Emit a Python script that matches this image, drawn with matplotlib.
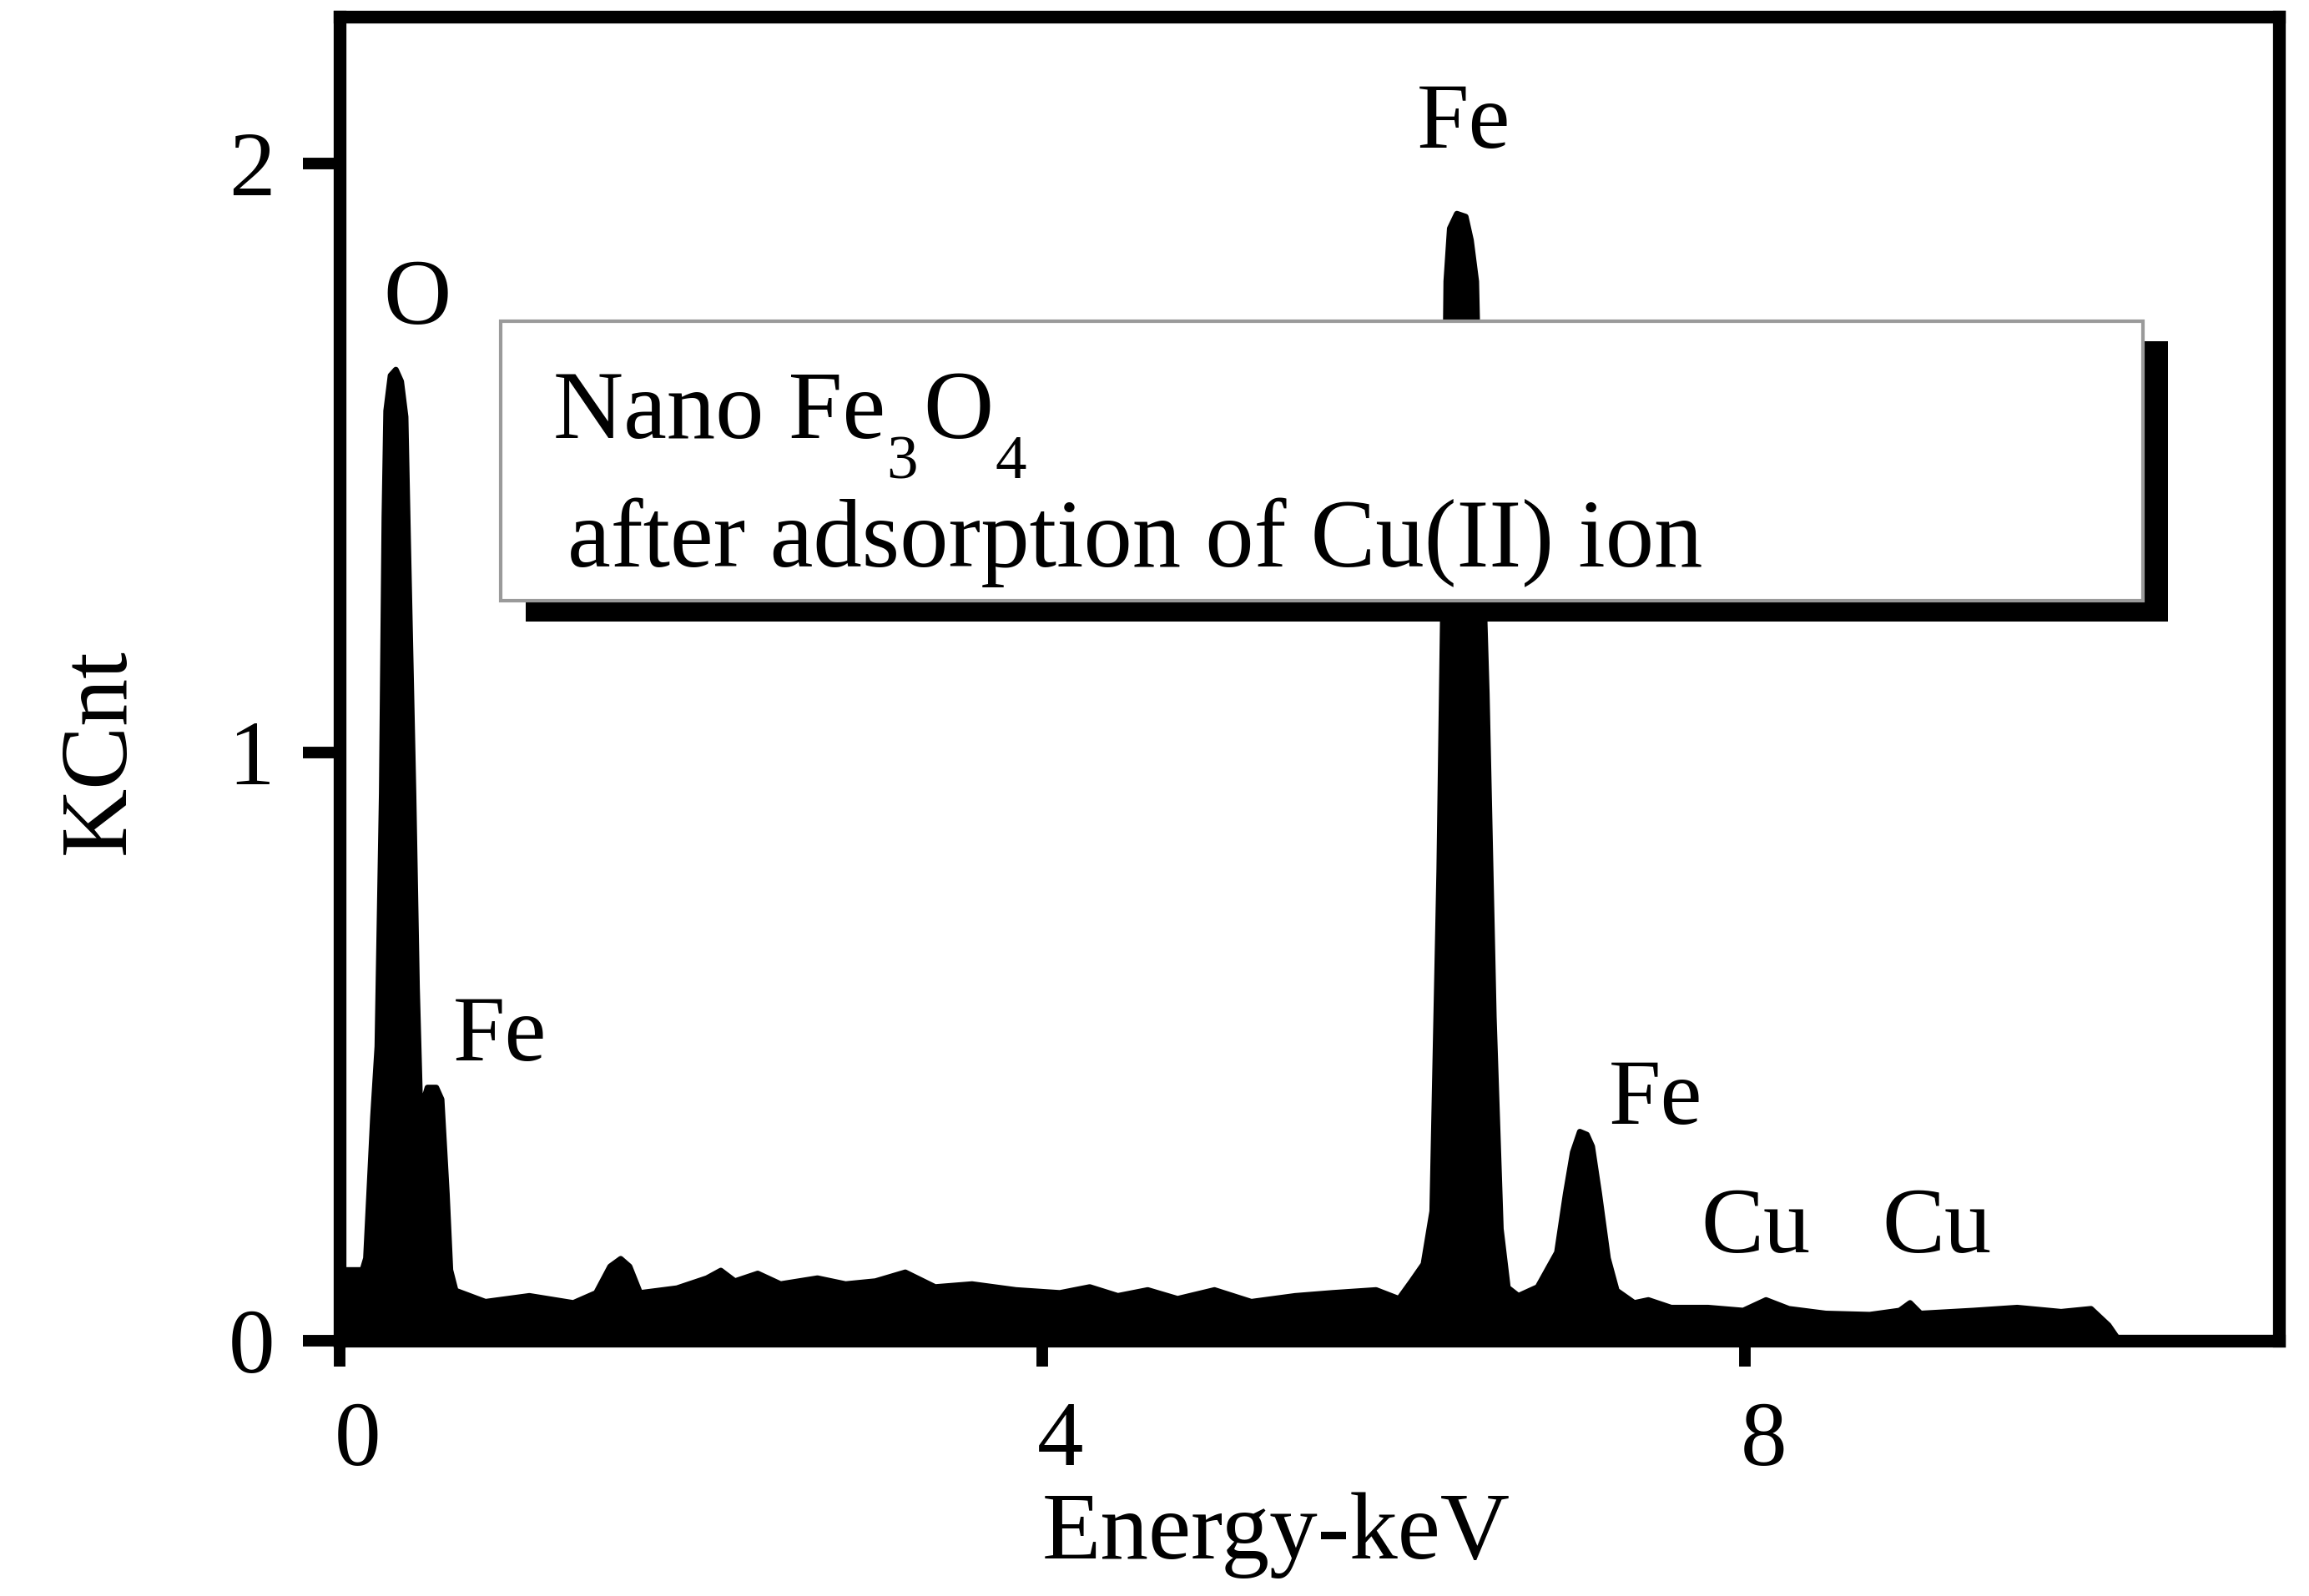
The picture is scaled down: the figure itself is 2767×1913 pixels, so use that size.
import numpy as np
import matplotlib.pyplot as plt
from matplotlib.patches import Rectangle
from matplotlib.transforms import ScaledTranslation

plt.rcParams['font.family'] = ['Liberation Serif', 'DejaVu Serif']

# espectro EDS (keV, KCnt)
energia = [0.0, 0.13, 0.15, 0.19, 0.215, 0.24, 0.255, 0.265, 0.29, 0.32, 0.35, 0.375,
           0.39, 0.42, 0.44, 0.46, 0.48, 0.50, 0.55, 0.58, 0.61, 0.63, 0.66,
           0.83, 1.08, 1.33, 1.46, 1.54, 1.60, 1.65, 1.71, 1.92, 2.09, 2.17, 2.25,
           2.38, 2.51, 2.72, 2.88, 3.05, 3.22, 3.39, 3.60, 3.85, 4.10, 4.27, 4.43,
           4.60, 4.77, 4.98, 5.19, 5.44, 5.65, 5.90, 6.03, 6.10,
           6.17, 6.22, 6.26, 6.28, 6.30, 6.32, 6.36, 6.41, 6.44, 6.47, 6.50, 6.53,
           6.57, 6.61, 6.65, 6.71,
           6.82, 6.93, 6.98, 7.02, 7.06, 7.10, 7.13, 7.17, 7.22, 7.27,
           7.37, 7.45, 7.58, 7.79, 7.99, 8.12, 8.25, 8.46, 8.71, 8.88, 8.94, 9.00,
           9.30, 9.55, 9.80, 9.97, 10.07, 10.13, 11.04]
contagens = [0.12, 0.12, 0.14, 0.38, 0.50, 0.93, 1.40, 1.58, 1.64, 1.65, 1.63, 1.57,
             1.35, 0.93, 0.60, 0.38, 0.41, 0.43, 0.43, 0.41, 0.25, 0.12, 0.085,
             0.066, 0.076, 0.064, 0.081, 0.126, 0.139, 0.126, 0.081, 0.089, 0.106, 0.119, 0.101,
             0.114, 0.096, 0.106, 0.096, 0.101, 0.116, 0.091, 0.096, 0.086, 0.081, 0.091, 0.076,
             0.086, 0.071, 0.086, 0.066, 0.076, 0.081, 0.086, 0.071, 0.10,
             0.13, 0.22, 0.80, 1.22, 1.80, 1.89, 1.915, 1.91, 1.87, 1.80, 1.40, 1.10,
             0.55, 0.19, 0.09, 0.076,
             0.091, 0.15, 0.25, 0.32, 0.355, 0.35, 0.33, 0.25, 0.14, 0.085,
             0.064, 0.069, 0.056, 0.056, 0.051, 0.069, 0.054, 0.046, 0.044, 0.051, 0.064, 0.046,
             0.051, 0.056, 0.049, 0.054, 0.026, 0.0, 0.0]

rotulos_picos = ["O", "Fe", "Fe", "Fe", "Cu", "Cu"]
ticks_x = [0, 4, 8]
ticks_y = [0, 1, 2]

fig = plt.figure(figsize=(27.67, 19.13), dpi=100)
ax = fig.add_axes([0.1471, 0.1600, 0.8399, 0.8296])

ax.fill_between(energia, 0, contagens, color='black', linewidth=0, zorder=2)
ax.plot(energia, contagens, color='black', linewidth=5, solid_joinstyle='round', zorder=2)

ax.set_xlim(0, 11.04)
ax.set_ylim(0, 2.25)
ax.set_xticks(ticks_x)
ax.set_yticks(ticks_y)

for s in ax.spines.values():
    s.set_linewidth(11)
    s.set_zorder(5)
ax.tick_params(axis='x', length=22, width=10, pad=30, labelsize=80, direction='out')
ax.tick_params(axis='y', length=32, width=10, pad=24, labelsize=80, direction='out')
# os numeros do eixo x ficam um pouco deslocados para a direita no original
for lbl in ax.get_xticklabels():
    lbl.set_transform(lbl.get_transform() + ScaledTranslation(0.22, 0, fig.dpi_scale_trans))

ax.set_xlabel("Energy-keV", fontsize=83)
ax.xaxis.set_label_coords(0.483, -0.147)
ax.xaxis.label.set_va('center')
ax.set_ylabel("KCnt", fontsize=82)
ax.yaxis.set_label_coords(-0.123, 0.445)
ax.yaxis.label.set_va('center')

# caixa com sombra
bx, by, bw, bh = 0.0831, 0.5589, 0.8466, 0.2113
sombra = Rectangle((bx + 0.0129, by - 0.0156), bw, bh, transform=ax.transAxes,
                   facecolor='black', edgecolor='none', zorder=6)
caixa = Rectangle((bx, by), bw, bh, transform=ax.transAxes,
                  facecolor='white', edgecolor='#9a9a9a', linewidth=3, zorder=7)
ax.add_patch(sombra)
ax.add_patch(caixa)

# "Nano Fe3O4" montado em pedacos para os indices ficarem mais baixos
yb = 0.6815
t = ax.text(0.110, yb, "Nano Fe", transform=ax.transAxes, fontsize=84,
            ha='left', va='baseline', zorder=8)
partes = [("3", 54, 1, -34.5), ("O", 84, 5, 0), ("4", 54, 1, -34.5)]
for txt, fs, dx, dy in partes:
    t = ax.annotate(txt, xy=(1, yb), xycoords=(t, 'axes fraction'),
                    xytext=(dx, dy), textcoords='offset points',
                    fontsize=fs, ha='left', va='baseline', zorder=8)
ax.text(0.1176, 0.5846, "after adsorption of Cu(II) ion", transform=ax.transAxes,
        fontsize=84, ha='left', va='baseline', zorder=8)

# rotulos dos picos
pos_rotulos = [(0.44, 1.766), (0.91, 0.515), (6.40, 2.066), (7.49, 0.407), (8.06, 0.189), (9.09, 0.189)]
for nome, (px, py) in zip(rotulos_picos, pos_rotulos):
    ax.text(px, py, nome, fontsize=81, ha='center', va='center', zorder=4)

fig.savefig("out.png", dpi=100)
